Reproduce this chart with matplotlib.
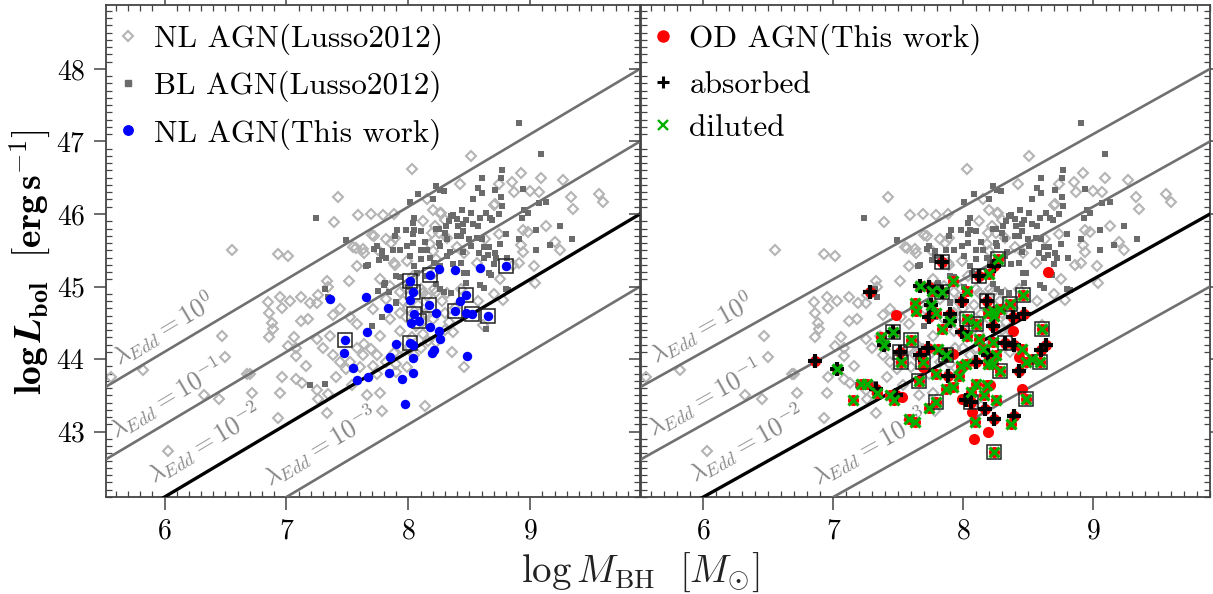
import matplotlib
matplotlib.use("Agg")
import matplotlib.pyplot as plt
import numpy as np
from matplotlib.lines import Line2D
from matplotlib.ticker import MultipleLocator

plt.rcParams["font.family"] = "serif"
plt.rcParams["font.serif"] = ["cmr10"]
plt.rcParams["mathtext.fontset"] = "cm"
plt.rcParams["axes.unicode_minus"] = False
plt.rcParams["axes.formatter.use_mathtext"] = True

# Lusso+2012 narrow-line AGN (open diamonds)
nl_lusso_mbh = [
    8.51, 8.03, 7.42, 6.55, 8.92, 9.09, 8.85, 8.87, 9.00, 9.07, 9.27, 9.33, 9.35, 9.56, 9.60,
    8.42, 8.15, 8.20, 8.71, 7.39, 7.59, 7.69, 7.79, 7.88, 8.12, 8.26, 8.30, 7.72, 7.89, 8.94,
    9.13, 8.98, 9.20, 9.24, 8.74, 6.93, 7.01, 7.57, 7.63, 7.58, 7.75, 7.89, 7.51, 7.33, 7.26,
    8.91, 9.03, 9.04, 8.75, 8.70, 8.21, 8.25, 8.32, 8.40, 8.46, 8.56, 8.63, 8.04, 7.98, 8.12,
    8.21, 8.32, 8.43, 8.74, 8.70, 8.92, 8.94, 8.86, 8.27, 7.70, 7.55, 7.64, 7.82, 7.86, 8.19,
    8.22, 8.18, 8.20, 8.23, 7.88, 7.99, 7.34, 7.25, 7.19, 7.12, 7.03, 6.95, 6.85, 6.96, 6.86,
    6.88, 6.89, 6.86, 7.12, 7.18, 7.06, 7.01, 7.08, 7.16, 6.96, 6.72, 6.95, 6.70, 7.08, 7.13,
    7.25, 7.26, 7.33, 7.34, 6.93, 7.38, 7.44, 7.52, 7.58, 7.36, 7.25, 7.30, 7.38, 7.44, 7.49,
    7.41, 7.54, 7.52, 7.58, 7.64, 7.69, 7.74, 7.63, 7.71, 7.60, 7.74, 7.77, 7.66, 7.78, 8.14,
    7.90, 7.99, 7.90, 7.82, 7.88, 7.94, 7.77, 7.85, 7.93, 8.10, 8.15, 7.85, 7.93, 8.12, 7.93,
    7.77, 7.82, 7.71, 8.23, 8.23, 8.78, 8.61, 8.36, 8.46, 8.37, 8.57, 8.30, 8.33, 5.56, 5.82,
    6.47, 6.50, 6.32, 6.45, 6.03, 6.68, 7.08, 8.00, 8.08, 8.14, 8.06, 8.12, 7.98, 8.03, 8.10,
    8.16, 7.96, 8.30, 8.28, 8.38, 8.20, 8.05, 8.00,
]
nl_lusso_lbol = [
    46.80, 46.62, 46.23, 45.51, 46.57, 46.49, 46.44, 46.30, 46.31, 46.30, 46.47, 46.23, 46.07, 46.28, 46.17,
    46.41, 46.20, 46.05, 46.14, 45.89, 45.98, 46.00, 45.98, 46.00, 45.90, 46.01, 45.92, 45.69, 45.67, 45.78,
    45.84, 45.75, 45.61, 45.51, 45.73, 45.45, 45.42, 45.53, 45.52, 45.28, 45.51, 45.30, 45.08, 45.07, 44.88,
    45.33, 45.28, 45.05, 45.10, 44.90, 45.19, 45.74, 45.67, 45.55, 45.46, 45.33, 45.65, 45.14, 44.96, 44.91,
    44.96, 44.91, 44.96, 46.41, 46.13, 45.57, 45.47, 45.30, 46.02, 45.71, 45.55, 45.46, 45.65, 45.60, 45.74,
    45.83, 45.58, 45.49, 45.38, 45.33, 45.35, 44.99, 44.78, 44.78, 44.86, 44.80, 44.85, 44.79, 44.71, 44.63,
    44.50, 44.42, 44.30, 44.53, 44.55, 44.31, 44.18, 44.15, 43.91, 43.76, 43.54, 43.54, 43.80, 43.72, 43.67,
    43.57, 43.45, 43.26, 43.52, 43.19, 44.61, 44.69, 44.58, 44.48, 44.32, 44.28, 44.16, 44.05, 43.96, 43.87,
    43.75, 43.64, 43.96, 44.16, 44.21, 44.14, 44.05, 44.05, 43.91, 43.89, 43.80, 43.54, 43.50, 43.28, 43.36,
    43.93, 43.89, 43.82, 43.96, 44.09, 44.16, 45.10, 45.01, 44.92, 44.96, 44.87, 44.55, 44.64, 44.35, 44.39,
    44.32, 44.83, 44.69, 44.23, 44.92, 44.82, 44.47, 44.10, 43.89, 44.37, 44.80, 44.64, 44.51, 43.76, 43.85,
    44.32, 44.03, 43.50, 43.45, 42.73, 43.79, 44.04, 44.70, 44.75, 44.62, 44.45, 44.52, 44.58, 44.30, 44.15,
    44.25, 44.80, 44.40, 44.80, 44.70, 44.55, 44.05, 44.15,
]

# Lusso+2012 broad-line AGN (filled squares)
bl_lusso_mbh = [
    8.91, 9.09, 7.24, 8.77, 8.60, 8.23, 8.29, 8.08, 8.01, 8.20, 8.57, 8.60, 8.53, 8.71, 8.76,
    9.07, 9.13, 8.95, 8.77, 8.74, 8.44, 8.47, 8.64, 8.05, 8.35, 8.41, 9.05, 9.24, 9.34, 8.91,
    9.05, 7.49, 7.65, 7.72, 7.78, 7.91, 7.98, 8.05, 7.87, 8.14, 8.10, 8.25, 8.30, 8.58, 8.68,
    8.62, 8.82, 8.05, 7.32, 8.98, 8.51, 8.69, 8.04, 8.57, 7.76, 7.93, 8.15, 8.43, 8.32, 8.25,
    8.50, 8.60, 8.66, 8.71, 8.65, 8.72, 8.43, 8.32, 8.26, 8.46, 8.47, 8.21, 7.93, 8.01, 7.81,
    8.15, 8.26, 8.35, 8.76, 8.26, 8.94, 8.37, 8.59, 8.67, 8.93, 8.33, 8.40, 8.45, 8.53, 8.23,
    8.31, 8.80, 9.16, 8.75, 8.62, 8.56, 8.45, 8.40, 8.26, 8.34, 8.45, 8.51, 8.62, 8.70, 8.81,
    8.04, 8.10, 7.89, 7.99, 8.04, 7.78, 7.74, 7.82, 8.01, 8.10, 8.18, 7.34, 7.80, 7.75, 7.90,
    7.78, 7.70, 7.19, 7.32, 7.90, 7.84, 8.07, 8.59, 8.80, 8.64, 8.48, 8.66, 8.29, 8.23, 8.37,
    7.90, 7.67,
]
bl_lusso_lbol = [
    47.25, 46.83, 45.94, 46.60, 46.49, 46.38, 46.31, 46.28, 46.17, 46.21, 46.36, 46.29, 46.20, 46.33, 46.24,
    46.15, 46.16, 46.05, 46.11, 46.00, 46.05, 45.92, 46.01, 45.94, 45.97, 45.83, 45.78, 45.84, 45.66, 45.66,
    45.51, 45.64, 45.29, 45.52, 45.42, 45.78, 45.78, 45.78, 45.51, 45.62, 45.51, 45.79, 45.74, 45.46, 45.16,
    44.98, 44.95, 45.28, 44.97, 46.01, 46.01, 45.92, 45.87, 45.83, 45.36, 45.51, 45.51, 45.69, 45.65, 45.60,
    45.65, 45.65, 45.55, 45.46, 45.44, 45.39, 45.33, 45.42, 45.28, 45.19, 45.05, 45.33, 45.13, 45.00, 45.05,
    45.14, 44.96, 44.91, 46.49, 46.33, 46.34, 45.99, 45.94, 45.95, 45.95, 45.90, 45.93, 45.86, 45.86, 45.80,
    45.84, 45.72, 45.57, 45.58, 45.54, 45.67, 45.77, 45.70, 45.56, 45.47, 45.47, 45.56, 45.40, 45.31, 45.40,
    45.73, 45.77, 45.70, 45.56, 45.60, 45.49, 45.56, 45.40, 45.42, 45.38, 45.40, 44.86, 45.02, 44.94, 44.79,
    44.58, 44.46, 43.65, 43.66, 45.15, 44.92, 45.19, 45.02, 44.97, 44.41, 45.18, 45.19, 44.92, 45.03, 45.31,
    44.77, 45.30,
]

# narrow-line AGN, this work (box = framed by an open square)
nl_mbh = [
    7.36, 7.65, 7.83, 8.01, 8.18, 8.04, 8.01, 8.17, 8.05, 8.09, 8.02, 8.23, 8.18, 8.25, 7.66,
    7.48, 8.01, 7.90, 8.04, 7.47, 7.85, 8.04, 8.19, 8.21, 7.55, 7.84, 8.04, 7.58, 7.67, 7.95,
    7.97, 8.25, 8.38, 8.59, 8.80, 8.47, 8.42, 8.38, 8.47, 8.52, 8.65, 8.26, 8.48,
]
nl_lbol = [
    44.83, 44.85, 44.71, 45.08, 45.16, 44.92, 44.82, 44.75, 44.62, 44.53, 44.50, 44.64, 44.44, 44.39, 44.37,
    44.26, 44.22, 44.21, 44.19, 44.08, 44.03, 44.02, 44.09, 44.13, 43.88, 43.81, 43.81, 43.71, 43.75, 43.73,
    43.38, 45.24, 45.23, 45.26, 45.28, 44.88, 44.80, 44.67, 44.63, 44.62, 44.60, 44.28, 44.04,
]
nl_box = [
    0, 0, 0, 1, 1, 1, 0, 1, 1, 1, 0, 0, 0, 0, 0,
    1, 1, 0, 0, 0, 0, 0, 0, 0, 0, 0, 0, 0, 0, 0,
    0, 0, 0, 0, 1, 1, 0, 1, 0, 1, 1, 0, 0,
]

# optically dull AGN, this work
od_mbh = [
    7.28, 6.86, 7.03, 7.48, 7.46, 7.37, 7.39, 7.60, 7.51, 7.52, 7.67, 7.74, 7.76, 7.84, 7.92,
    7.84, 7.63, 7.64, 7.75, 7.79, 7.74, 7.90, 7.90, 7.84, 8.03, 7.99, 8.12, 8.20, 8.18, 8.19,
    8.24, 8.03, 8.10, 7.99, 8.03, 8.12, 8.15, 8.19, 8.23, 7.73, 7.67, 7.69, 7.81, 7.87, 7.92,
    7.98, 8.02, 8.10, 8.19, 7.69, 7.88, 7.97, 7.79, 7.66, 7.21, 7.26, 7.33, 7.34, 7.15, 7.44,
    7.48, 7.53, 7.47, 7.87, 7.92, 7.79, 7.74, 7.99, 8.02, 8.06, 8.10, 8.18, 8.16, 8.06, 8.07,
    8.09, 8.17, 8.24, 8.19, 8.08, 7.58, 7.63, 8.24, 8.65, 8.46, 8.27, 8.36, 8.28, 8.23, 8.38,
    8.47, 8.38, 8.61, 8.23, 8.32, 8.39, 8.45, 8.64, 8.60, 8.53, 8.59, 8.48, 8.43, 8.25, 8.28,
    8.43, 8.23, 8.45, 8.48, 8.25, 8.21, 8.39, 8.37, 8.24,
]
od_lbol = [
    44.93, 43.98, 43.87, 44.61, 44.38, 44.30, 44.20, 44.26, 44.10, 43.96, 45.01, 44.99, 44.94, 45.34, 45.08,
    44.92, 44.78, 44.67, 44.74, 44.64, 44.58, 44.62, 44.52, 44.42, 44.94, 44.80, 45.15, 45.17, 44.80, 44.64,
    44.60, 44.55, 44.48, 44.37, 44.32, 44.28, 44.14, 44.05, 44.23, 44.16, 44.06, 43.96, 44.14, 44.05, 44.07,
    43.91, 43.93, 43.96, 43.93, 43.89, 43.77, 43.77, 43.80, 43.70, 43.66, 43.66, 43.59, 43.53, 43.44, 43.51,
    43.50, 43.48, 43.43, 43.59, 43.61, 43.41, 43.32, 43.45, 43.43, 43.55, 43.66, 43.64, 43.50, 43.41, 43.27,
    43.13, 43.31, 43.18, 42.99, 42.90, 43.17, 43.13, 42.72, 45.20, 44.88, 45.38, 44.76, 44.69, 44.67, 44.58,
    44.62, 44.39, 44.41, 44.46, 44.22, 44.19, 44.14, 44.19, 44.12, 44.00, 43.96, 43.96, 44.03, 44.05, 43.84,
    43.84, 43.93, 43.59, 43.45, 43.43, 43.64, 43.22, 43.11, 45.28,
]
od_absorbed = [
    1, 1, 1, 0, 1, 0, 1, 0, 1, 0, 1, 1, 0, 1, 0,
    1, 0, 0, 1, 0, 1, 1, 1, 0, 0, 1, 1, 0, 1, 0,
    0, 0, 0, 1, 0, 0, 0, 1, 0, 1, 1, 0, 0, 1, 0,
    0, 0, 1, 0, 0, 1, 0, 0, 0, 0, 0, 1, 0, 0, 0,
    1, 0, 0, 0, 0, 0, 0, 0, 1, 0, 0, 0, 0, 1, 0,
    0, 1, 1, 0, 0, 0, 0, 0, 0, 0, 0, 0, 0, 0, 1,
    1, 0, 0, 1, 1, 1, 0, 1, 1, 0, 0, 0, 0, 0, 0,
    1, 0, 0, 0, 0, 0, 1, 0, 1,
]
od_diluted = [
    0, 0, 1, 0, 1, 1, 1, 1, 0, 1, 1, 0, 1, 0, 1,
    1, 1, 1, 1, 1, 0, 0, 1, 1, 1, 0, 0, 1, 0, 1,
    1, 1, 1, 0, 1, 1, 1, 0, 1, 0, 0, 1, 1, 1, 0,
    1, 1, 0, 1, 0, 0, 1, 1, 1, 1, 1, 0, 1, 1, 1,
    0, 0, 1, 1, 1, 1, 1, 0, 0, 1, 1, 1, 1, 0, 0,
    1, 0, 0, 0, 0, 1, 1, 1, 0, 1, 1, 1, 1, 1, 0,
    0, 0, 1, 0, 0, 0, 1, 0, 0, 1, 1, 1, 0, 1, 1,
    0, 1, 0, 1, 1, 0, 0, 1, 0,
]
od_box = [
    0, 0, 0, 0, 1, 0, 0, 1, 1, 1, 0, 0, 0, 1, 0,
    1, 0, 0, 0, 0, 0, 0, 0, 0, 0, 0, 1, 0, 1, 0,
    0, 1, 1, 0, 0, 0, 0, 0, 0, 0, 0, 1, 0, 1, 0,
    0, 0, 0, 0, 0, 0, 0, 0, 1, 0, 0, 0, 0, 0, 0,
    0, 0, 0, 0, 0, 1, 0, 0, 0, 0, 0, 0, 0, 1, 0,
    0, 0, 0, 0, 0, 0, 0, 1, 0, 1, 1, 1, 0, 0, 0,
    0, 0, 1, 0, 1, 0, 0, 0, 0, 0, 1, 0, 0, 0, 1,
    0, 0, 0, 1, 0, 0, 0, 0, 0,
]

edd_log_lambda = [0, -1, -2, -3]
edd_labels = [r"$\lambda_{Edd}=10^{0}$", r"$\lambda_{Edd}=10^{-1}$",
              r"$\lambda_{Edd}=10^{-2}$", r"$\lambda_{Edd}=10^{-3}$"]
edd_label_pos = [(5.99, 44.43), (6.01, 43.47), (6.33, 42.84), (7.28, 42.80)]

XLIM = (5.52, 9.9)
YLIM = (42.1, 48.88)
GRAY_D = "#b4b4b4"
GRAY_S = "#6b6b6b"


def draw_background(ax):
    ax.plot(nl_lusso_mbh, nl_lusso_lbol, ls="none", marker="D", ms=5.2, mfc="none",
            mec=GRAY_D, mew=1.5, zorder=2)
    ax.plot(bl_lusso_mbh, bl_lusso_lbol, ls="none", marker="s", ms=4.9, mfc=GRAY_S,
            mec=GRAY_S, mew=0, zorder=2)
    xs = np.array(XLIM)
    for lam, lab, pos in zip(edd_log_lambda, edd_labels, edd_label_pos):
        col = "black" if lam == -2 else "#707070"
        lw = 2.4 if lam == -2 else 1.9
        ax.plot(xs, xs + 38.1 + lam, color=col, lw=lw, zorder=3)
        ax.text(pos[0], pos[1], lab, color="#858585", fontsize=18.5, rotation=45,
                transform_rotates_text=True, rotation_mode="anchor",
                ha="center", va="center", zorder=3)


def style_axes(ax):
    ax.set_xlim(*XLIM)
    ax.set_ylim(*YLIM)
    ax.xaxis.set_major_locator(MultipleLocator(1))
    ax.xaxis.set_minor_locator(MultipleLocator(0.1))
    ax.yaxis.set_major_locator(MultipleLocator(1))
    ax.yaxis.set_minor_locator(MultipleLocator(0.1))
    ax.tick_params(which="major", direction="out", length=9, width=1.1, color="#444444",
                   top=True, right=True, labelsize=20, pad=6)
    ax.tick_params(which="minor", direction="in", length=4, width=0.9, color="#444444",
                   top=True, right=True)
    for sp in ax.spines.values():
        sp.set_color("#444444")
        sp.set_linewidth(1.3)


fig = plt.figure(figsize=(12.13, 5.94), dpi=100)
ax1 = fig.add_axes([106 / 1213, 97 / 594, 534 / 1213, 492 / 594])
ax2 = fig.add_axes([641 / 1213, 97 / 594, 569 / 1213, 492 / 594], sharey=ax1)

# left panel
draw_background(ax1)
nl_m = np.array(nl_mbh)
nl_l = np.array(nl_lbol)
box = np.array(nl_box) == 1
ax1.plot(nl_m[box], nl_l[box], ls="none", marker="s", ms=9.5, mfc="none", mec="#222222",
         mew=1.1, zorder=4)
ax1.plot(nl_m, nl_l, ls="none", marker="o", ms=6.8, mfc="#0000ff", mec="#0000ff",
         mew=0, zorder=5)
style_axes(ax1)

handles1 = [
    Line2D([], [], ls="none", marker="D", ms=5.2, mfc="none", mec=GRAY_D, mew=1.5),
    Line2D([], [], ls="none", marker="s", ms=4.9, mfc=GRAY_S, mec=GRAY_S),
    Line2D([], [], ls="none", marker="o", ms=6.8, mfc="#0000ff", mec="#0000ff"),
]
ax1.legend(handles1, ["NL AGN(Lusso2012)", "BL AGN(Lusso2012)", "NL AGN(This work)"],
           loc="upper left", bbox_to_anchor=(-0.012, 1.0), frameon=False, fontsize=22.5,
           handlelength=0.6, handletextpad=0.55, labelspacing=0.5, borderaxespad=0.2)

# right panel
draw_background(ax2)
od_m = np.array(od_mbh)
od_l = np.array(od_lbol)
ab = np.array(od_absorbed) == 1
di = np.array(od_diluted) == 1
bx = np.array(od_box) == 1
ax2.plot(od_m, od_l, ls="none", marker="o", ms=8, mfc="#ff0000", mec="#ff0000",
         mew=0, zorder=4)
ax2.plot(od_m[bx], od_l[bx], ls="none", marker="s", ms=10, mfc="none", mec="#222222",
         mew=1.1, zorder=5)
ax2.plot(od_m[ab], od_l[ab], ls="none", marker="+", ms=9.5, mec="black", mew=3.0, zorder=6)
ax2.plot(od_m[di], od_l[di], ls="none", marker="x", ms=7, mec="#00b000", mew=2.3, zorder=7)
style_axes(ax2)
ax2.tick_params(labelleft=False)

handles2 = [
    Line2D([], [], ls="none", marker="o", ms=8, mfc="#ff0000", mec="#ff0000"),
    Line2D([], [], ls="none", marker="+", ms=8, mec="black", mew=2.2),
    Line2D([], [], ls="none", marker="x", ms=6.5, mec="#00b000", mew=1.7),
]
ax2.legend(handles2, ["OD AGN(This work)", "absorbed", "diluted"],
           loc="upper left", bbox_to_anchor=(-0.011, 1.0), frameon=False, fontsize=22.5,
           handlelength=0.6, handletextpad=0.55, labelspacing=0.5, borderaxespad=0.2)

fig.text(640 / 1213, 1 - 572 / 594, r"$\log M_{\rm BH}\ \ [M_{\odot}]$",
         fontsize=28, ha="center", va="center", color="#222222")
fig.text(30 / 1213, 1 - 262 / 594,
         r"$\mathbf{log}\,\boldsymbol{L}_{\mathbf{bol}}\ \ [\mathbf{erg\,s^{-1}}]$",
         fontsize=27, ha="center", va="center", rotation=90)

fig.savefig("out.png", dpi=100)
